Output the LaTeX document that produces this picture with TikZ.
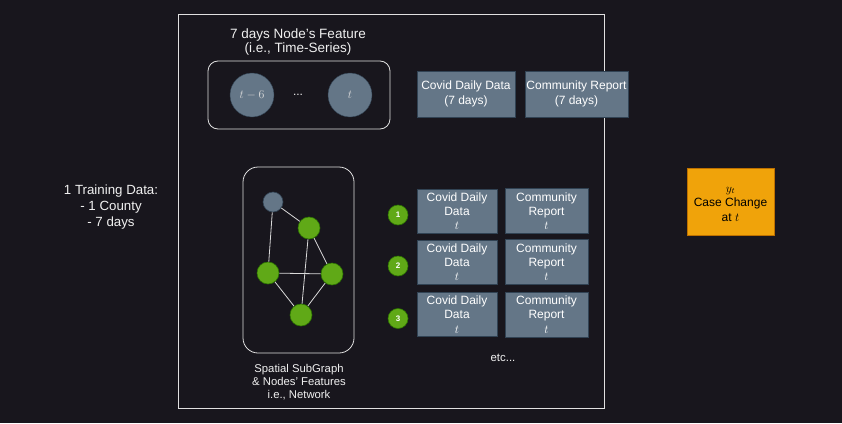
\documentclass[tikz,border=0pt]{standalone}
\usepackage{fontspec}
\setmainfont{Liberation Sans}
\begin{document}
\begin{tikzpicture}[x=1pt,y=-1pt,
  txt/.style={text=white!94!black, align=center, inner sep=0pt},
  databox/.style={draw=boxborder, fill=boxfill, line width=0.8pt, text=white, align=center, inner sep=0pt, font=\fontsize{12}{14.3}\selectfont},
  tcirc/.style={circle, fill=boxfill, draw=boxborder, minimum size=44pt, inner sep=0pt, text=white!85!black, font=\fontsize{11.5}{12}\selectfont},
  gnode/.style={circle, fill=greenfill, draw=greenborder, line width=0.6pt, minimum size=22pt, inner sep=0pt},
  numc/.style={circle, fill=greenfill, draw=greenborder, line width=0.6pt, minimum size=20pt, inner sep=0pt, text=white, font=\bfseries\fontsize{8}{9}\selectfont},
  edge/.style={draw=white!85!black, line width=0.8pt}
]
\definecolor{bg}{HTML}{18161D}
\definecolor{boxfill}{HTML}{647687}
\definecolor{boxborder}{HTML}{314354}
\definecolor{greenfill}{HTML}{60A917}
\definecolor{greenborder}{HTML}{2D7600}
\definecolor{orangefill}{HTML}{F0A30A}
\definecolor{orangeborder}{HTML}{BD7000}
\definecolor{framecol}{HTML}{E0E0E0}

\fill[bg] (0,0) rectangle (842,423);
\useasboundingbox (0,0) rectangle (842,423);

% outer frame
\draw[framecol, line width=1pt] (178,14) rectangle (604,408);

% left label
\node[txt, font=\fontsize{13.3}{16}\selectfont] (train) at (111,207) {1 Training Data:\\- 1 County\\- 7 days};

% time-series
\node[txt, font=\fontsize{13.5}{14.5}\selectfont] (tstitle) at (298,42) {7 days Node's Feature\\(i.e., Time-Series)};
\draw[framecol, line width=0.8pt, rounded corners=10pt] (208,61) rectangle (390,129);
\node[tcirc] (c6) at (252,95) {$t-6$};
\node[txt, font=\fontsize{12}{12}\selectfont] (dots) at (298,95) {...};
\node[tcirc] (c0) at (350,95) {$t$};

\node[databox, minimum width=98pt, minimum height=46pt] (cov7) at (466,94) {Covid Daily Data\\(7 days)};
\node[databox, minimum width=103pt, minimum height=46pt] (com7) at (576.5,94) {Community Report\\(7 days)};

% spatial subgraph
\draw[framecol, line width=0.8pt, rounded corners=15pt] (243,167) rectangle (354,353);
\node[circle, fill=boxfill, draw=boxborder, line width=0.6pt, minimum size=20pt, inner sep=0pt] (g0) at (273,202) {};
\node[gnode] (g1) at (309,228) {};
\node[gnode] (g2) at (268,273) {};
\node[gnode] (g3) at (332,274) {};
\node[gnode] (g4) at (301,315) {};
\draw[edge] (g0) -- (g1);
\draw[edge] (g0) -- (g2);
\draw[edge] (g1) -- (g3);
\draw[edge] (g1) -- (g4);
\draw[edge] (g2) -- (g3);
\draw[edge] (g2) -- (g4);
\draw[edge] (g3) -- (g4);
\node[txt, font=\fontsize{11.3}{13}\selectfont] (spatlab) at (299,382) {Spatial SubGraph\\\& Nodes' Features\\i.e., Network};

% rows
\foreach \i/\y in {1/211, 2/262, 3/314.5} {
  \node[numc] (n\i) at (398,\y+4) {\i};
  \node[databox, minimum width=80pt, minimum height=44pt] (cd\i) at (457,\y) {Covid Daily\\Data\\$t$};
  \node[databox, minimum width=83pt, minimum height=45pt] (cr\i) at (546.5,\y) {Community\\Report\\$t$};
}
\node[txt, font=\fontsize{11.4}{12}\selectfont] (etc) at (503,358) {etc...};

% output
\node[draw=orangeborder, fill=orangefill, line width=0.8pt, minimum width=87pt, minimum height=67pt, inner sep=0pt] (yt) at (730.5,201.5) {};
\node[inner sep=0pt, align=center, text=black, font=\fontsize{12}{14.5}\selectfont] (ytlab) at (730.5,204) {$y_t$\\Case Change\\at $t$};
\end{tikzpicture}
\end{document}
